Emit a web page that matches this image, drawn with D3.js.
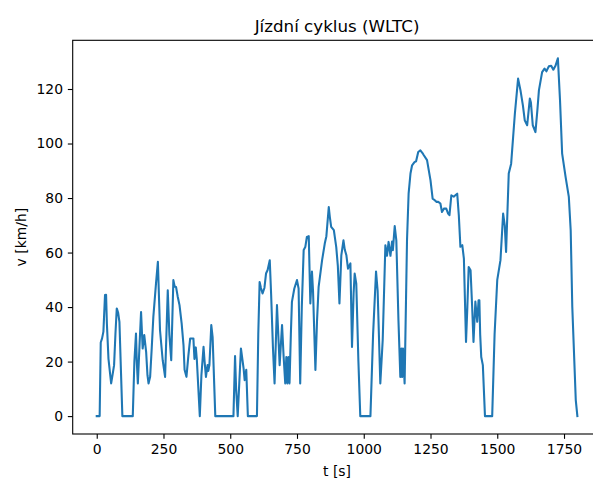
<!doctype html>
<html>
	<head>
		<meta charset="utf-8">
		<script src="https://d3js.org/d3.v7.min.js"></script>
		<style>
			body { margin:0; background:#fff; }
			text { font-family:"DejaVu Sans", sans-serif; fill:#000; }
			.tick text { font-size:13.9px; }
			.tick line { stroke:#000; stroke-width:1.1; }
			.domain { display:none; }
		</style>
	</head>
	<body>
		<script>
			var title = "Jízdní cyklus (WLTC)";
			var xLabel = "t [s]";
			var yLabel = "v [km/h]";
			var xTicks = [0, 250, 500, 750, 1000, 1250, 1500, 1750];
			var yTicks = [0, 20, 40, 60, 80, 100, 120];

			// speed trace (s, km/h)
			var time = [0, 11, 15, 20, 25, 31, 35, 38, 44, 50, 54, 60, 65, 70, 75, 80, 85, 91, 96, 135,
				141, 147, 150, 154, 160, 166, 172, 178, 185, 190, 194, 200, 206, 212, 222, 229, 237, 247, 256, 261,
				266, 272, 279, 287, 292, 297, 303, 310, 318, 325, 329, 336, 343, 350, 356, 362, 366, 371, 375, 386,
				392, 400, 404, 409, 415, 418, 422, 429, 434, 444, 512, 518, 522, 528, 540, 550, 554, 560, 566, 600,
				605, 610, 615, 621, 628, 634, 640, 648, 653, 660, 666, 675, 685, 694, 700, 706, 710, 714, 718, 722,
				727, 731, 740, 750, 756, 762, 768, 775, 781, 787, 794, 800, 806, 810, 819, 825, 831, 844, 854, 860,
				869, 873, 878, 888, 897, 903, 909, 916, 924, 929, 935, 941, 950, 956, 962, 966, 972, 980, 987, 1025,
				1035, 1046, 1052, 1062, 1071, 1081, 1087, 1093, 1100, 1106, 1109, 1116, 1122, 1130, 1137, 1141, 1144, 1147, 1153, 1162,
				1168, 1175, 1181, 1190, 1196, 1204, 1212, 1220, 1225, 1237, 1250, 1258, 1266, 1272, 1279, 1287, 1293, 1300, 1309, 1316,
				1321, 1328, 1337, 1343, 1350, 1356, 1362, 1369, 1375, 1383, 1388, 1393, 1400, 1406, 1411, 1418, 1425, 1430, 1433, 1436,
				1440, 1446, 1454, 1481, 1490, 1500, 1512, 1522, 1528, 1533, 1543, 1552, 1566, 1578, 1587, 1596, 1603, 1612, 1622, 1626,
				1633, 1643, 1650, 1656, 1668, 1677, 1684, 1693, 1702, 1710, 1718, 1727, 1735, 1743, 1756, 1768, 1775, 1781, 1794, 1800];
			var speed = [0, 0, 27, 28.5, 31, 44.4, 44.5, 34, 21, 15.6, 12, 15.6, 18.7, 30, 39.5, 38, 34.6, 15.6, 0, 0,
				20, 30.3, 20, 12, 25.4, 38.2, 24.8, 29.7, 23.6, 15, 12, 14.4, 25, 36.4, 48.7, 56.6, 31.5, 20.5, 14.4, 30,
				46.2, 30, 20.5, 49.9, 47.5, 47.4, 44, 40.7, 34, 26, 17, 14.4, 22, 28.5, 28.5, 28.5, 21, 25.2, 20.5, 0,
				15, 25.4, 20, 14.4, 18.7, 16.6, 18.7, 33.4, 29, 0, 0, 22, 10, 0, 24.8, 17.5, 13.2, 17, 0, 0,
				30, 49.2, 47, 45, 47, 52.3, 53.6, 57.2, 45, 25, 12, 40.7, 18.7, 33.4, 21.7, 12, 21.7, 12, 21.7, 12,
				30, 41.9, 46.8, 49.9, 46.8, 12, 40, 60.9, 62, 65.7, 66, 41.3, 53, 46, 16.9, 35, 47.4, 57.2, 63.3, 66,
				76.7, 73, 69.4, 68.2, 62, 55, 41.3, 59, 64.5, 61, 59, 54.1, 56, 25.4, 45, 52.3, 48.6, 20, 0, 0,
				30, 53, 46, 12, 27.9, 62.7, 58.8, 63.9, 58.8, 64, 60.9, 69.7, 64.5, 35, 14.4, 24.8, 14.4, 24.8, 12, 64.5,
				81.6, 89, 92, 93.2, 93.5, 96.9, 97.5, 96.5, 95.7, 93.9, 86.5, 79.8, 79.2, 78.6, 78.6, 78, 74.9, 76.1, 76.1, 74.3,
				73.7, 81, 80.5, 81, 81.6, 73.7, 62.1, 62.7, 57.8, 27.2, 40, 54.7, 53.5, 40, 27.2, 42, 34.6, 42.5, 42.5, 30,
				21.7, 18.7, 0, 0, 30, 50, 57.2, 74.3, 70, 60.2, 89, 92.6, 111, 123.8, 119.5, 114, 108.5, 106.7, 116.5, 115,
				106.7, 104.2, 112, 119.5, 126.2, 127.5, 126.5, 128.3, 128.5, 127.1, 128.5, 131.3, 115.9, 96.3, 87.7, 80.4, 68.2, 40, 5.9, 0];

			var W = 593, H = 479;
			var padL = 72.7, padR = 601.4, padT = 40.3, padB = 434;

			var data = time.map(function(t, i) { return [t, speed[i]]; });

			var tMax = d3.max(time), vMax = d3.max(speed);
			var x_scale = d3.scaleLinear().domain([-0.05 * tMax, 1.05 * tMax]).range([padL, padR]);
			var y_scale = d3.scaleLinear().domain([-0.05 * vMax, 1.05 * vMax]).range([padB, padT]);

			var svg = d3.select("body").append("svg").attr("width", W).attr("height", H);
			svg.append("rect").attr("width", W).attr("height", H).style("fill", "#fff");

			var xAxis = d3.axisBottom(x_scale).tickValues(xTicks).tickSize(4.86).tickPadding(4.86).tickFormat(d3.format("d"));
			var yAxis = d3.axisLeft(y_scale).tickValues(yTicks).tickSize(4.86).tickPadding(4.86).tickFormat(d3.format("d"));

			svg.append("g").attr("class", "x-axis").attr("transform", "translate(0," + padB + ")").call(xAxis);
			svg.append("g").attr("class", "y-axis").attr("transform", "translate(" + padL + ",0)").call(yAxis);

			var line = d3.line()
				.x(function(d) { return x_scale(d[0]); })
				.y(function(d) { return y_scale(d[1]); });

			svg.append("path").datum(data).attr("d", line)
				.attr("fill", "none").attr("stroke", "#1f77b4").attr("stroke-width", 2.08)
				.attr("stroke-linejoin", "round").attr("stroke-linecap", "square");

			// spines
			svg.append("rect").attr("x", padL).attr("y", padT).attr("width", padR - padL).attr("height", padB - padT)
				.attr("fill", "none").attr("stroke", "#000").attr("stroke-width", 1.1);

			svg.append("text").attr("x", (padL + padR) / 2).attr("y", 32).attr("text-anchor", "middle")
				.style("font-size", "16.7px").text(title);

			svg.append("text").attr("x", (padL + padR) / 2).attr("y", 476).attr("text-anchor", "middle")
				.style("font-size", "13.9px").text(xLabel);

			svg.append("text").attr("transform", "translate(26," + ((padT + padB) / 2) + ") rotate(-90)")
				.attr("text-anchor", "middle").style("font-size", "13.9px").text(yLabel);
		</script>
	</body>
</html>
